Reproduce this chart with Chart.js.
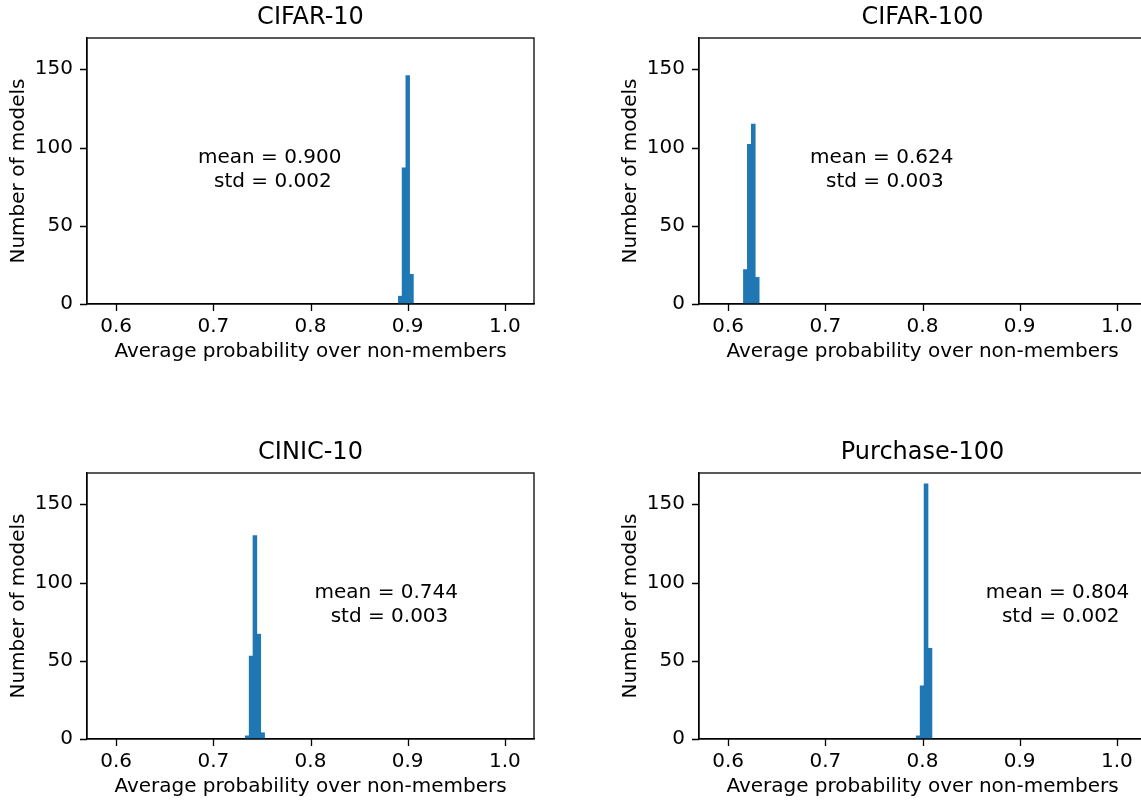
<!DOCTYPE html>
<html>
<head>
<meta charset="utf-8">
<title>Average probability over non-members</title>
<script src="https://cdn.jsdelivr.net/npm/chart.js@4.4.1/dist/chart.umd.min.js"></script>
<style>
  html, body { margin: 0; padding: 0; background: #fff; width: 1141px; height: 801px; overflow: hidden; }
  canvas { position: absolute; }
</style>
</head>
<body>
<canvas id="cifar10Chart" width="570" height="380" style="left:0px;top:0px"></canvas>
<canvas id="cifar100Chart" width="570" height="380" style="left:612px;top:0px"></canvas>
<canvas id="cinicChart" width="570" height="380" style="left:0px;top:435px"></canvas>
<canvas id="purchaseChart" width="570" height="380" style="left:612px;top:435px"></canvas>
<script>
// histogram data (bin edges + counts)
const cifar10Edges = [0.8904, 0.8943, 0.8981, 0.9020, 0.9059];
const cifar10Counts = [5, 87, 146, 19];
const cifar100Edges = [0.6157, 0.6198, 0.6238, 0.6279, 0.6319];
const cifar100Counts = [22, 102, 115, 17];
const cinicEdges = [0.7329, 0.7369, 0.7408, 0.7448, 0.7488, 0.7527];
const cinicCounts = [2, 53, 130, 67, 4];
const purchaseEdges = [0.7935, 0.7976, 0.8016, 0.8057, 0.8097];
const purchaseCounts = [2, 34, 163, 58];

const datasetNames = ['CIFAR-10', 'CIFAR-100', 'CINIC-10', 'Purchase-100'];
const means = [0.900, 0.624, 0.744, 0.804];
const stds = [0.002, 0.003, 0.003, 0.002];

const xTicks = [0.6, 0.7, 0.8, 0.9, 1.0];
const yTicks = [0, 50, 100, 150];

Chart.defaults.font.family = "'DejaVu Sans', sans-serif";
Chart.defaults.font.size = 20;
Chart.defaults.color = '#000';

// box around the plot area (matplotlib spines) + outward tick marks
const frameBox = {
    id: 'frameBox',
    afterDatasetsDraw(chart) {
        const {ctx, chartArea: a, scales} = chart;
        ctx.save();
        ctx.strokeStyle = '#000';
        ctx.lineWidth = 1.3;
        ctx.strokeRect(a.left, a.top, a.right - a.left, a.bottom - a.top);
        ctx.beginPath();
        scales.x.ticks.forEach(t => {
            const px = Math.round(scales.x.getPixelForValue(t.value)) + 0.5;
            ctx.moveTo(px, a.bottom);
            ctx.lineTo(px, a.bottom + 7);
        });
        scales.y.ticks.forEach(t => {
            const py = Math.round(scales.y.getPixelForValue(t.value)) + 0.5;
            ctx.moveTo(a.left, py);
            ctx.lineTo(a.left - 7, py);
        });
        ctx.stroke();
        ctx.restore();
    }
};

// "mean = ... / std = ..." annotation
const statsText = {
    id: 'statsText',
    afterDatasetsDraw(chart, args, opts) {
        const {ctx, scales} = chart;
        const px = scales.x.getPixelForValue(opts.x);
        const py = scales.y.getPixelForValue(opts.y);
        ctx.save();
        ctx.font = "20px 'DejaVu Sans', sans-serif";
        ctx.fillStyle = '#000';
        ctx.textAlign = 'center';
        ctx.textBaseline = 'middle';
        ctx.fillText('mean = ' + opts.mean.toFixed(3), px, py - 12);
        ctx.fillText(' std = ' + opts.std.toFixed(3), px, py + 12);
        ctx.restore();
    }
};

function makeHistogram(canvasId, title, edges, counts, mean, std, textX) {
    const points = counts.map((c, i) => ({x: (edges[i] + edges[i + 1]) / 2, y: c}));
    const ctx = document.getElementById(canvasId).getContext('2d');
    return new Chart(ctx, {
        type: 'bar',
        data: {
            datasets: [{
                data: points,
                backgroundColor: '#1f77b4',
                borderWidth: 0,
                barPercentage: 1,
                categoryPercentage: 1
            }]
        },
        options: {
            responsive: false,
            animation: false,
            devicePixelRatio: 1,
            layout: {padding: {left: 0, top: 0, right: 36, bottom: 16}},
            plugins: {
                legend: {display: false},
                tooltip: {enabled: false},
                title: {
                    display: true,
                    text: title,
                    fullSize: false,
                    color: '#000',
                    font: {size: 24, weight: 'normal'},
                    padding: {top: 3, bottom: 6.2}
                },
                statsText: {mean: mean, std: std, x: textX, y: 86}
            },
            scales: {
                x: {
                    type: 'linear',
                    min: 0.57,
                    max: 1.03,
                    bounds: 'data',
                    offset: false,
                    afterBuildTicks: s => { s.ticks = xTicks.map(v => ({value: v})); },
                    afterFit: s => { s.height = 60; },
                    ticks: {padding: 4, maxRotation: 0, callback: v => v.toFixed(1)},
                    grid: {offset: false, drawOnChartArea: false, drawTicks: true, tickLength: 7, tickColor: 'rgba(0,0,0,0)'},
                    border: {display: true, color: '#000', width: 1.3},
                    title: {display: true, text: 'Average probability over non-members', padding: {top: 0, bottom: 0}}
                },
                y: {
                    type: 'linear',
                    min: 0,
                    max: 170,
                    bounds: 'data',
                    afterBuildTicks: s => { s.ticks = yTicks.map(v => ({value: v})); },
                    afterFit: s => { s.width = 87; },
                    ticks: {padding: 7, callback: v => v},
                    grid: {drawOnChartArea: false, drawTicks: true, tickLength: 7, tickColor: 'rgba(0,0,0,0)'},
                    border: {display: true, color: '#000', width: 1.3},
                    title: {display: true, text: 'Number of models', padding: {top: 7, bottom: 0}}
                }
            }
        },
        plugins: [frameBox, statsText]
    });
}

document.addEventListener('DOMContentLoaded', function() {
    try {
        makeHistogram('cifar10Chart', datasetNames[0], cifar10Edges, cifar10Counts, means[0], stds[0], 0.758);
        makeHistogram('cifar100Chart', datasetNames[1], cifar100Edges, cifar100Counts, means[1], stds[1], 0.758);
        makeHistogram('cinicChart', datasetNames[2], cinicEdges, cinicCounts, means[2], stds[2], 0.878);
        makeHistogram('purchaseChart', datasetNames[3], purchaseEdges, purchaseCounts, means[3], stds[3], 0.939);
    } catch (error) {
        console.error("Error during chart initialization:", error);
    }
});
</script>
</body>
</html>
